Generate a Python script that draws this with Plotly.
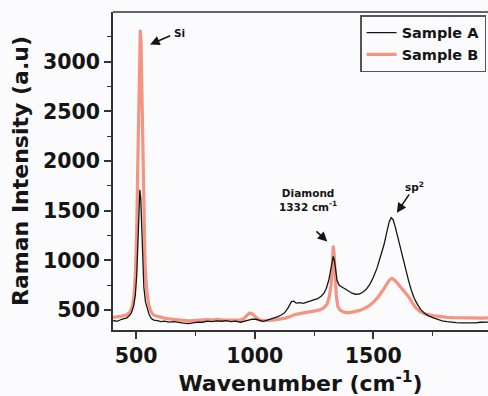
import plotly.graph_objects as go

# Raman spectra (wavenumber in cm^-1, intensity in a.u.)
wn_a = [400, 410, 420, 430, 440, 450, 460, 470, 480, 490, 497, 503, 508, 512, 516,
        520, 524, 528, 533, 540, 548, 556, 565, 575, 590, 605, 620, 640, 660, 680,
        700, 720, 740, 760, 780, 800, 820, 840, 860, 880, 900, 920, 940, 960, 975,
        990, 1005, 1020, 1035, 1050, 1065, 1080, 1095, 1110, 1125, 1140, 1155, 1165,
        1175, 1190, 1205, 1220, 1235, 1250, 1265, 1280, 1292, 1302, 1312, 1320, 1326,
        1331, 1336, 1341, 1347, 1355, 1365, 1380, 1395, 1410, 1425, 1440, 1455, 1470,
        1485, 1500, 1515, 1530, 1545, 1557, 1567, 1575, 1583, 1592, 1602, 1612, 1622,
        1635, 1648, 1660, 1672, 1685, 1700, 1715, 1730, 1750, 1770, 1790, 1810, 1830,
        1850, 1870, 1890, 1910, 1930, 1950, 1970, 1990]
int_a = [390, 395, 388, 402, 408, 415, 420, 440, 470, 540, 650, 850, 1150, 1480, 1710,
         1620, 1300, 980, 730, 580, 500, 450, 415, 400, 395, 385, 390, 380, 384, 375,
         370, 365, 372, 380, 378, 390, 385, 392, 388, 395, 385, 390, 378, 390, 405,
         410, 408, 395, 388, 398, 408, 420, 432, 448, 470, 520, 585, 590,
         570, 575, 568, 580, 590, 605, 615, 640, 670, 720, 800, 900, 990,
         1040, 1000, 900, 800, 755, 735, 715, 690, 670, 660, 662, 680, 710,
         760, 830, 920, 1030, 1160, 1290, 1390, 1430, 1410, 1340, 1240, 1140, 1040,
         920, 800, 700, 620, 560, 505, 470, 445, 425, 405, 392, 385, 378,
         375, 372, 370, 374, 372, 378, 376, 380]

wn_b = [400, 420, 440, 460, 475, 485, 492, 498, 503, 507, 511, 515, 518, 521, 525,
        529, 533, 538, 545, 553, 562, 572, 585, 600, 620, 640, 660, 680, 700, 720,
        740, 760, 780, 800, 820, 840, 860, 880, 900, 920, 940, 955, 968, 978, 990,
        1002, 1015, 1030, 1050, 1070, 1090, 1110, 1130, 1150, 1170, 1190, 1210, 1230,
        1250, 1270, 1290, 1305, 1315, 1322, 1327, 1331, 1335, 1339, 1344, 1350, 1358,
        1370, 1385, 1400, 1420, 1440, 1460, 1480, 1500, 1520, 1540, 1555, 1568, 1578,
        1590, 1605, 1620, 1635, 1650, 1665, 1680, 1700, 1720, 1750, 1780, 1810, 1840,
        1870, 1900, 1930, 1960, 1990]
int_b = [425, 430, 440, 450, 480, 540, 650, 900, 1300, 1900, 2600, 3150, 3320, 3200, 2700,
         2000, 1400, 950, 700, 560, 490, 455, 440, 430, 420, 412, 405, 400, 398, 392,
         395, 400, 398, 405, 400, 408, 402, 400, 405, 400, 402, 415, 450, 470, 462,
         432, 408, 395, 395, 400, 405, 410, 420, 435, 455, 465, 472, 480,
         490, 500, 520, 560, 640, 760, 930, 1150, 1050, 830, 640, 540, 505,
         485, 475, 475, 482, 495, 515, 540, 580, 630, 700, 760, 805, 820,
         800, 760, 720, 680, 630, 570, 520, 480, 460, 445, 435, 428, 425,
         422, 420, 422, 420, 422]

FONT = "DejaVu Sans"
INK = "#151515"

fig = go.Figure()
fig.add_trace(go.Scatter(
    x=wn_b, y=int_b, mode="lines", name="Sample B",
    line=dict(color="rgba(240,110,80,0.72)", width=3.2),
))
fig.add_trace(go.Scatter(
    x=wn_a, y=int_a, mode="lines", name="Sample A",
    line=dict(color=INK, width=1.3),
))

# peak labels and arrows
arrow_style = dict(showarrow=True, arrowhead=2, arrowsize=1.2, arrowwidth=1.6,
                   arrowcolor=INK, axref="x", ayref="y", text="")
fig.add_annotation(x=559, y=3174, ax=650, ay=3267, **arrow_style)
fig.add_annotation(x=1306, y=1190, ax=1254, ay=1307, **arrow_style)
fig.add_annotation(x=1599, y=1480, ax=1655, ay=1680, **arrow_style)

label_font = dict(family=FONT, size=10.5, color=INK, weight="bold")
fig.add_annotation(x=685, y=3287, text="Si", showarrow=False, font=label_font)
fig.add_annotation(x=1225, y=1607, text="Diamond<br>1332 cm<sup>-1</sup>",
                   showarrow=False, font=label_font, align="center")
fig.add_annotation(x=1674, y=1747, text="sp<sup>2</sup>", showarrow=False,
                   font=label_font)

# top frame edge
fig.add_shape(type="line", xref="paper", yref="paper", x0=0, x1=1, y0=1, y1=1,
              line=dict(color="#333333", width=1.6))

tick_font = dict(family=FONT, size=20.5, color=INK, weight="bold")
title_font = dict(family=FONT, size=22, color=INK, weight="bold")

fig.update_xaxes(
    range=[403, 1983], tickmode="array", tickvals=[500, 1000, 1500],
    ticks="outside", ticklen=7, tickwidth=1.5, tickcolor="#333333",
    minor=dict(tickvals=[750, 1250, 1750], ticks="outside", ticklen=4,
               tickwidth=1.2, tickcolor="#333333"),
    showline=True, linecolor="#333333", linewidth=1.6,
    showgrid=False, zeroline=False, tickfont=tick_font,
    title=dict(text="Wavenumber (cm<sup>-1</sup>)", font=title_font, standoff=6),
)
fig.update_yaxes(
    range=[300, 3500], tickmode="array", tickvals=[500, 1000, 1500, 2000, 2500, 3000],
    ticks="outside", ticklen=7, tickwidth=1.5, tickcolor="#333333",
    minor=dict(tickvals=[750, 1250, 1750, 2250, 2750, 3250], ticks="outside",
               ticklen=4, tickwidth=1.2, tickcolor="#333333"),
    showline=True, linecolor="#333333", linewidth=1.6,
    showgrid=False, zeroline=False, tickfont=tick_font,
    title=dict(text="Raman Intensity (a.u)", font=title_font, standoff=8),
)

fig.update_layout(
    width=488, height=396,
    margin=dict(l=113, r=0, t=12, b=66),
    paper_bgcolor="#fbfbfd", plot_bgcolor="#fbfbfd",
    legend=dict(
        x=0.995, y=0.99, xanchor="right", yanchor="top",
        traceorder="reversed", bgcolor="rgba(0,0,0,0)",
        bordercolor="#555555", borderwidth=1.5,
        font=dict(family=FONT, size=14.5, color=INK, weight="bold"),
        tracegroupgap=0, itemwidth=30,
    ),
    showlegend=True,
)

fig.write_html("out.html")
